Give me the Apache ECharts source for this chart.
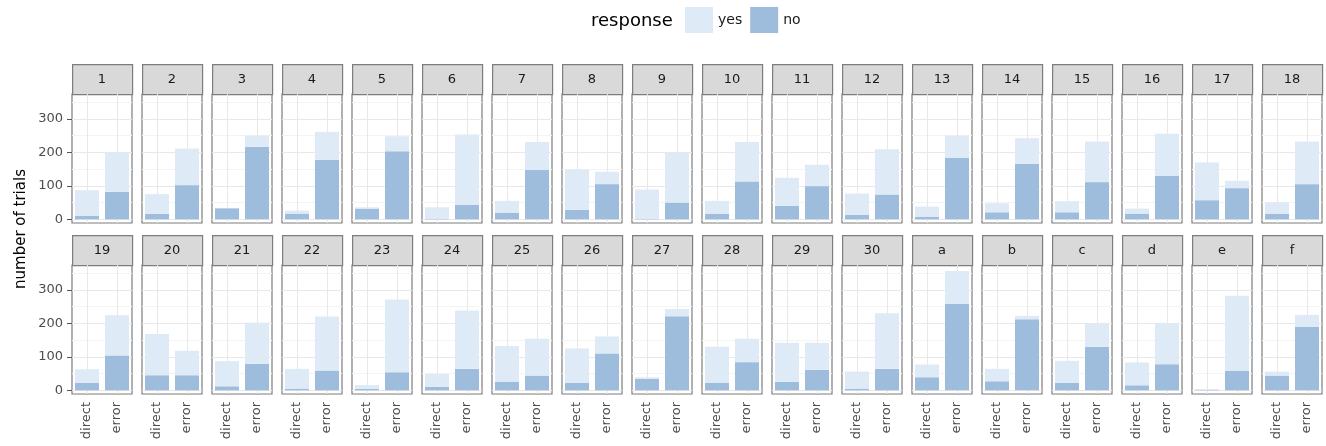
<!DOCTYPE html>
<html>
<head>
<meta charset="utf-8">
<script src="https://cdn.jsdelivr.net/npm/echarts@6/dist/echarts.min.js"></script>
<style>
html,body{margin:0;padding:0;background:#fff;}
#chart{width:1326px;height:446px;}
</style>
</head>
<body>
<div id="chart"></div>
<script>
// ---- data ----
const panels = ['1','2','3','4','5','6','7','8','9','10','11','12','13','14','15','16','17','18',
                '19','20','21','22','23','24','25','26','27','28','29','30','a','b','c','d','e','f'];
const categories = ['direct', 'error'];
// "no" counts (bottom of stack)
const noDirect = [10,16,33,17,32,2,20,28,1,17,40,13,8,21,21,17,57,17,
                  22,45,12,5,4,10,26,22,34,23,25,5,39,27,22,15,1,44];
const noError  = [82,102,216,178,203,43,147,105,50,113,99,74,183,166,111,129,93,105,
                  104,45,79,59,54,64,44,110,221,84,61,64,258,212,130,78,58,189];
// "yes" counts (top of stack)
const yesDirect = [77,59,1,9,4,34,35,121,88,38,84,64,30,27,33,15,113,34,
                   41,123,75,59,12,39,106,103,5,107,117,51,38,37,66,68,3,12];
const yesError  = [119,109,34,83,45,210,84,37,149,118,64,135,67,76,121,126,22,127,
                   120,73,123,161,217,174,110,51,22,70,81,166,98,10,69,123,224,36];
const yTicks = [0, 100, 200, 300];
const yMinor = [50, 150, 250, 350];
const legendTitle = 'response';
const yTitle = 'number of trials';

// ---- layout / style ----
const FONT = 'DejaVu Sans';
const nCols = 18;
const left0 = 72, pitch = 70, panelW = 60;
const stripTops = [64, 235], stripH = 30, gridH = 129;
const yMin = -11, yMax = 374;
const colNo = '#9ebcdc', colYes = '#deebf7';
const borderCol = '#7d7d7d';

const grids = [], xAxes = [], yAxes = [], series = [], graphics = [];

panels.forEach((p, i) => {
  const row = Math.floor(i / nCols), col = i % nCols;
  const x = left0 + col * pitch;
  const top = stripTops[row] + stripH;
  grids.push({left: x, top: top, width: panelW, height: gridH, show: true,
              borderColor: borderCol, borderWidth: 1.2, backgroundColor: '#ffffff'});
  const bottomRow = row === 1;
  xAxes.push({type: 'category', gridIndex: i, data: categories,
    axisLine: {show: false},
    axisTick: {show: bottomRow, alignWithLabel: true, length: 4, lineStyle: {color: '#555'}},
    axisLabel: {show: bottomRow, rotate: 90, margin: 8, fontFamily: FONT, fontSize: 13, color: '#4d4d4d'},
    splitLine: {show: false}});
  const firstCol = col === 0;
  yAxes.push({type: 'value', gridIndex: i, min: yMin, max: yMax,
    axisLine: {show: false},
    axisTick: {show: firstCol, length: 5, customValues: yTicks, lineStyle: {color: '#555'}},
    axisLabel: {show: firstCol, customValues: yTicks, margin: 9, fontFamily: FONT, fontSize: 13, color: '#4d4d4d',
      formatter: v => (yTicks.indexOf(v) >= 0 ? String(v) : '')},
    splitLine: {show: false}, minorSplitLine: {show: false}});

  const gl = [];
  yMinor.forEach(v => gl.push({yAxis: v, lineStyle: {color: '#f3f3f3', width: 1, type: 'solid'}}));
  yTicks.forEach(v => gl.push({yAxis: v, lineStyle: {color: '#e8e8e8', width: 1, type: 'solid'}}));
  categories.forEach(c => gl.push({xAxis: c, lineStyle: {color: '#e8e8e8', width: 1, type: 'solid'}}));

  series.push({name: 'no', type: 'bar', xAxisIndex: i, yAxisIndex: i, stack: 's' + i,
    data: [noDirect[i], noError[i]], barWidth: 24, z: 3,
    itemStyle: {color: colNo}, animation: false, silent: true,
    markLine: {silent: true, z: 1, symbol: ['none', 'none'], animation: false,
      label: {show: false}, emphasis: {disabled: true}, data: gl}});
  series.push({name: 'yes', type: 'bar', xAxisIndex: i, yAxisIndex: i, stack: 's' + i,
    data: [yesDirect[i], yesError[i]], barWidth: 24, z: 3,
    itemStyle: {color: colYes}, animation: false, silent: true});

  graphics.push({type: 'rect', left: x, top: stripTops[row],
    shape: {x: 0, y: 0, width: panelW, height: stripH},
    style: {fill: '#d9d9d9', stroke: borderCol, lineWidth: 1.2}, silent: true});
  graphics.push({type: 'text', x: x + panelW / 2, y: stripTops[row] + stripH / 2 + 1,
    style: {text: p, font: '13px "' + FONT + '"', fill: '#1a1a1a',
            textAlign: 'center', textVerticalAlign: 'middle', align: 'center', verticalAlign: 'middle'},
    silent: true});
});

graphics.push({type: 'text', x: 21, y: 229, rotation: Math.PI / 2,
  style: {text: yTitle, font: '15px "' + FONT + '"', fill: '#000',
          textAlign: 'center', textVerticalAlign: 'middle', align: 'center', verticalAlign: 'middle'},
  silent: true});
graphics.push({type: 'text', x: 591, y: 21,
  style: {text: legendTitle, font: '18px "' + FONT + '"', fill: '#000',
          textAlign: 'left', textVerticalAlign: 'middle', align: 'left', verticalAlign: 'middle'},
  silent: true});

const chart = echarts.init(document.getElementById('chart'), null, {renderer: 'canvas'});
chart.setOption({
  animation: false,
  backgroundColor: '#ffffff',
  legend: {data: ['yes', 'no'], left: 685, top: 7, icon: 'rect', itemWidth: 28, itemHeight: 26,
    itemGap: 8, selectedMode: false, padding: 0,
    textStyle: {fontFamily: FONT, fontSize: 14, color: '#1a1a1a'}},
  grid: grids,
  xAxis: xAxes,
  yAxis: yAxes,
  series: series,
  graphic: graphics
});
</script>
</body>
</html>
